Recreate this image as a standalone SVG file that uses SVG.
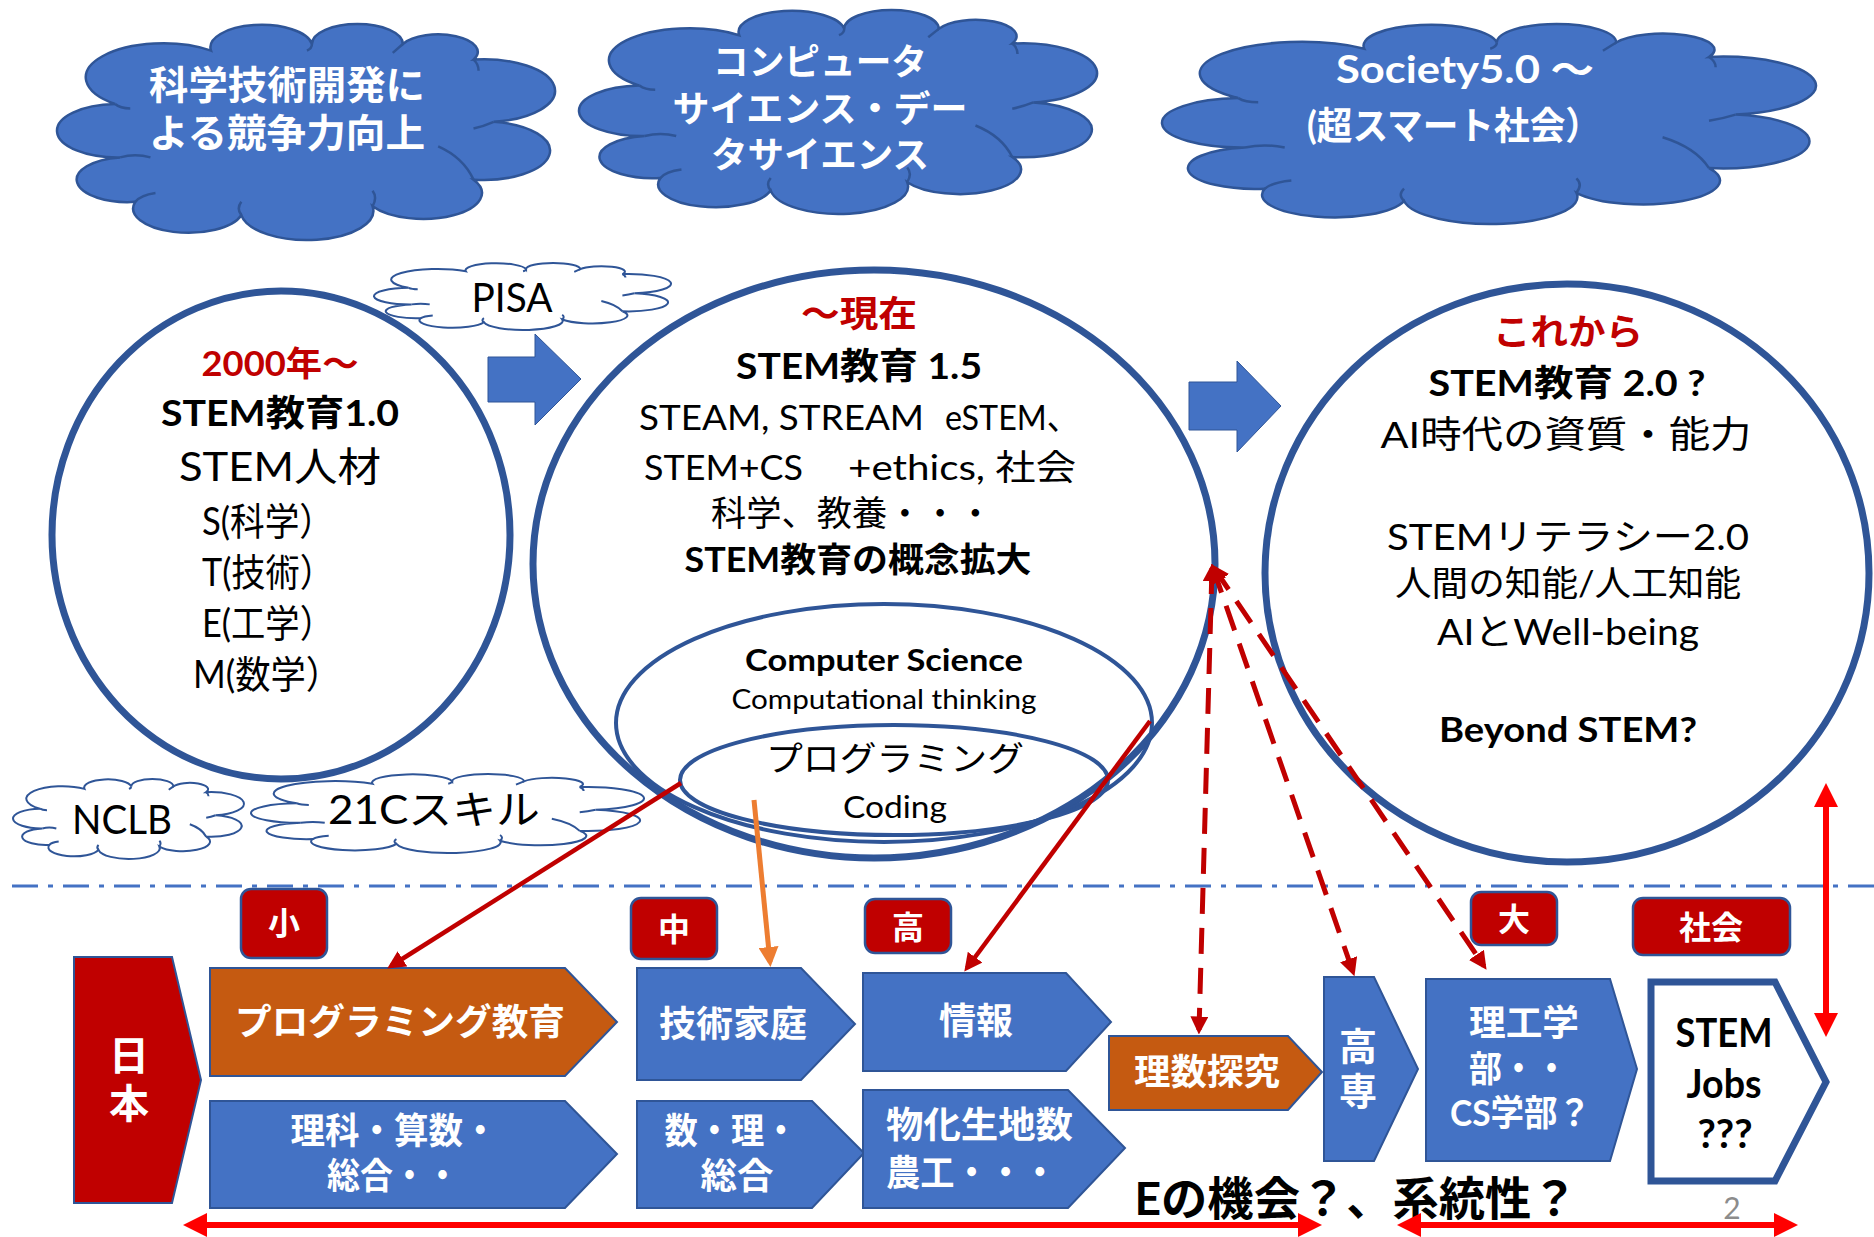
<svg xmlns="http://www.w3.org/2000/svg" xmlns:xlink="http://www.w3.org/1999/xlink" width="1874" height="1237" viewBox="0 0 1874 1237">
<style>
.t{font-family:Lato,"Noto Sans CJK JP",sans-serif;text-anchor:middle;dominant-baseline:central;fill:#000}
.s{text-anchor:start}
.w{fill:#fff;font-weight:bold}
.b{font-weight:bold}
.r{fill:#C00000;font-weight:bold}
.co{vector-effect:non-scaling-stroke}
.ci{fill:none;vector-effect:non-scaling-stroke}
.bcloud{fill:#4472C4;stroke:#2F5597;stroke-width:2.5}
.scloud{fill:#fff;stroke:#2F5597;stroke-width:2}
.circ{fill:none;stroke:#2F5597;stroke-width:7}
.ell{fill:none;stroke:#2F5597;stroke-width:4}
.blue{fill:#4472C4;stroke:#2F5597;stroke-width:2}
.orange{fill:#C55A11;stroke:#2F5597;stroke-width:2}
.lab{fill:#C00000;stroke:#2F5597;stroke-width:2.5}
.dr{fill:none;stroke:#C00000;stroke-width:4.5}
.dash{fill:none;stroke:#C00000;stroke-width:5;stroke-dasharray:26 14}
.rr{fill:none;stroke:#FF0000;stroke-width:6}
</style>
<defs>
<g id="cloud">
<g transform="scale(1.01369,1.02933) translate(0.51,-2)">
<path class="co" d="M11,38 A1,1 0 0 1 30,14 A1,1 0 0 1 50,11 A1,1 0 0 1 68,11 A1,1 0 0 1 82,18 A1,1 0 0 1 86,46 A1,1 0 0 1 82,72 A1,1 0 0 1 62,84 A1,1 0 0 1 36,88 A1,1 0 0 1 15,82 A1,1 0 0 1 12,62 A1,1 0 0 1 11,38 Z"/>
<path class="ci" d="M12,62 Q15,60 18,62 M15,82 Q16,79 19,78 M36,88 Q35,85 36,82 M62,84 Q63,80 62,77 M82,72 Q80,62 75,57 M86,46 Q84,48 82,49 M82,18 Q83,20 83,23 M68,11 Q67,13 66,15 M50,11 Q50,13 49,14 M11,38 Q12,40 14,40"/>
</g>
</g>
<marker id="mDR" viewBox="0 0 10 10" refX="7.5" refY="5" markerUnits="userSpaceOnUse" markerWidth="18" markerHeight="18" orient="auto-start-reverse"><path d="M0,0 L10,5 L0,10 z" fill="#C00000"/></marker>
<marker id="mOr" viewBox="0 0 10 10" refX="7.5" refY="5" markerUnits="userSpaceOnUse" markerWidth="20" markerHeight="20" orient="auto-start-reverse"><path d="M0,0 L10,5 L0,10 z" fill="#ED7D31"/></marker>
<marker id="mRR" viewBox="0 0 10 10" refX="7.5" refY="5" markerUnits="userSpaceOnUse" markerWidth="24" markerHeight="24" orient="auto-start-reverse"><path d="M0,0 L10,5 L0,10 z" fill="#FF0000"/></marker>
</defs>
<rect width="1874" height="1237" fill="#fff"/>

<g id="cloud-competition">
<use xlink:href="#cloud" class="bcloud" transform="translate(57,24) scale(4.98,2.16)"/>
<text class="t w" x="287" y="84" font-size="39" textLength="276" lengthAdjust="spacingAndGlyphs">科学技術開発に</text>
<text class="t w" x="287" y="132" font-size="39" textLength="276" lengthAdjust="spacingAndGlyphs">よる競争力向上</text>
</g>
<g id="cloud-cs">
<use xlink:href="#cloud" class="bcloud" transform="translate(579,10) scale(5.18,2.04)"/>
<text class="t w" x="820" y="61" font-size="36" textLength="214" lengthAdjust="spacingAndGlyphs">コンピュータ</text>
<text class="t w" x="820" y="108" font-size="36" textLength="295" lengthAdjust="spacingAndGlyphs">サイエンス・デー</text>
<text class="t w" x="820" y="154" font-size="36" textLength="218" lengthAdjust="spacingAndGlyphs">タサイエンス</text>
</g>
<g id="cloud-society">
<use xlink:href="#cloud" class="bcloud" transform="translate(1162,24) scale(6.54,2.0)"/>
<text class="t w" x="1465" y="68" font-size="38" textLength="258" lengthAdjust="spacingAndGlyphs">Society5.0 ～</text>
<text class="t w" x="1454" y="124" font-size="38" textLength="294" lengthAdjust="spacingAndGlyphs">(超スマート社会）</text>
</g>

<g id="cloud-pisa">
<use xlink:href="#cloud" class="scloud" transform="translate(374,263) scale(2.97,0.67)"/>
<text class="t" x="512" y="297" font-size="40" textLength="81" lengthAdjust="spacingAndGlyphs">PISA</text>
</g>
<g id="cloud-nclb">
<use xlink:href="#cloud" class="scloud" transform="translate(13,779) scale(2.31,0.8)"/>
<text class="t" x="122" y="819" font-size="40" textLength="100" lengthAdjust="spacingAndGlyphs">NCLB</text>
</g>
<g id="cloud-21c">
<use xlink:href="#cloud" class="scloud" transform="translate(251,774) scale(3.93,0.79)"/>
<text class="t" x="434" y="809" font-size="40" textLength="212" lengthAdjust="spacingAndGlyphs">21Cスキル</text>
</g>

<g id="circle-stem10">
<ellipse class="circ" cx="281" cy="535" rx="229" ry="244"/>
<text class="t r" x="280" y="362" font-size="34" textLength="157" lengthAdjust="spacingAndGlyphs">2000年～</text>
<text class="t b" x="280" y="412" font-size="36" textLength="238" lengthAdjust="spacingAndGlyphs">STEM教育1.0</text>
<text class="t" x="280" y="466" font-size="40" textLength="202" lengthAdjust="spacingAndGlyphs">STEM人材</text>
<text class="t" x="268" y="520" font-size="38" textLength="132" lengthAdjust="spacingAndGlyphs">S(科学）</text>
<text class="t" x="268" y="571" font-size="38" textLength="132" lengthAdjust="spacingAndGlyphs">T(技術）</text>
<text class="t" x="268" y="622" font-size="38" textLength="132" lengthAdjust="spacingAndGlyphs">E(工学）</text>
<text class="t" x="267" y="673" font-size="38" textLength="148" lengthAdjust="spacingAndGlyphs">M(数学）</text>
</g>

<g id="circle-stem15">
<ellipse class="circ" cx="874" cy="564" rx="341" ry="294"/>
<text class="t r" x="859" y="313" font-size="36" textLength="116" lengthAdjust="spacingAndGlyphs">～現在</text>
<text class="t b" x="859" y="365" font-size="36" textLength="246" lengthAdjust="spacingAndGlyphs">STEM教育 1.5</text>
<text class="t s" x="639" y="416" font-size="35" textLength="285" lengthAdjust="spacingAndGlyphs">STEAM, STREAM</text>
<text class="t s" x="945" y="416" font-size="35" textLength="134" lengthAdjust="spacingAndGlyphs">eSTEM、</text>
<text class="t s" x="644" y="466" font-size="35" textLength="159" lengthAdjust="spacingAndGlyphs">STEM+CS</text>
<text class="t s" x="848" y="466" font-size="35" textLength="228" lengthAdjust="spacingAndGlyphs">+ethics, 社会</text>
<text class="t" x="852" y="512" font-size="35" textLength="282" lengthAdjust="spacingAndGlyphs">科学、教養・・・</text>
<text class="t b" x="858" y="558" font-size="34" textLength="347" lengthAdjust="spacingAndGlyphs">STEM教育の概念拡大</text>
</g>
<g id="ellipse-cs">
<ellipse class="ell" cx="884" cy="723" rx="268" ry="119"/>
<text class="t b" x="884" y="659" font-size="31" textLength="278" lengthAdjust="spacingAndGlyphs">Computer Science</text>
<text class="t" x="884" y="699" font-size="26" textLength="305" lengthAdjust="spacingAndGlyphs">Computational thinking</text>
</g>
<g id="ellipse-programming">
<ellipse class="ell" cx="894" cy="780" rx="214" ry="55"/>
<text class="t" x="895" y="757" font-size="34" textLength="258" lengthAdjust="spacingAndGlyphs">プログラミング</text>
<text class="t" x="895" y="806" font-size="31" textLength="104" lengthAdjust="spacingAndGlyphs">Coding</text>
</g>

<g id="circle-stem20">
<ellipse class="circ" cx="1567" cy="573" rx="302" ry="289"/>
<text class="t r" x="1568" y="331" font-size="36" textLength="150" lengthAdjust="spacingAndGlyphs">これから</text>
<text class="t b" x="1567" y="382" font-size="36" textLength="277" lengthAdjust="spacingAndGlyphs">STEM教育 2.0 ?</text>
<text class="t" x="1566" y="433" font-size="37" textLength="371" lengthAdjust="spacingAndGlyphs">AI時代の資質・能力</text>
<text class="t" x="1568" y="536" font-size="36" textLength="362" lengthAdjust="spacingAndGlyphs">STEMリテラシー2.0</text>
<text class="t" x="1568" y="582" font-size="35" textLength="346" lengthAdjust="spacingAndGlyphs">人間の知能/人工知能</text>
<text class="t" x="1568" y="631" font-size="36" textLength="262" lengthAdjust="spacingAndGlyphs">AIとWell-being</text>
<text class="t b" x="1568" y="728" font-size="34" textLength="258" lengthAdjust="spacingAndGlyphs">Beyond STEM?</text>
</g>

<g id="arrow-1">
<polygon class="blue" style="stroke-width:1" points="488,357 535,357 535,334 581,379 535,425 535,402 488,402"/>
</g>
<g id="arrow-2">
<polygon class="blue" style="stroke-width:1" points="1189,382 1237,382 1237,361 1281,406 1237,452 1237,430 1189,430"/>
</g>

<line x1="12" y1="886" x2="1874" y2="886" stroke="#4472C4" stroke-width="3" stroke-dasharray="26 10 5 10"/>

<g id="japan">
<polygon fill="#C00000" stroke="#2F5597" stroke-width="2" points="74,957 172,957 201,1080 172,1203 74,1203"/>
<text class="t w" x="129" y="1055" font-size="40">日</text>
<text class="t w" x="129" y="1103" font-size="40">本</text>
</g>

<g id="label-elementary"><rect class="lab" x="241" y="889" width="86" height="69" rx="10"/><text class="t w" x="284" y="922" font-size="32">小</text></g>
<g id="label-junior"><rect class="lab" x="631" y="898" width="86" height="61" rx="10"/><text class="t w" x="674" y="928" font-size="32">中</text></g>
<g id="label-high"><rect class="lab" x="865" y="899" width="86" height="54" rx="10"/><text class="t w" x="908" y="926" font-size="32">高</text></g>
<g id="label-univ"><rect class="lab" x="1471" y="892" width="86" height="53" rx="10"/><text class="t w" x="1514" y="918" font-size="32">大</text></g>
<g id="label-society"><rect class="lab" x="1633" y="898" width="157" height="57" rx="10"/><text class="t w" x="1711" y="926" font-size="32">社会</text></g>

<g id="box-programming">
<polygon class="orange" points="210,968 565,968 617,1022 565,1076 210,1076"/>
<text class="t w" x="400" y="1021" font-size="36" textLength="330" lengthAdjust="spacingAndGlyphs">プログラミング教育</text>
</g>
<g id="box-science-math">
<polygon class="blue" points="210,1101 565,1101 617,1154 565,1208 210,1208"/>
<text class="t w" x="394" y="1130" font-size="36" textLength="207" lengthAdjust="spacingAndGlyphs">理科・算数・</text>
<text class="t w" x="393" y="1175" font-size="36" textLength="132" lengthAdjust="spacingAndGlyphs">総合・・</text>
</g>
<g id="box-tech-home">
<polygon class="blue" points="637,968 801,968 855,1024 801,1080 637,1080"/>
<text class="t w" x="733" y="1023" font-size="36" textLength="148" lengthAdjust="spacingAndGlyphs">技術家庭</text>
</g>
<g id="box-math-sci">
<polygon class="blue" points="637,1101 812,1101 864,1153 812,1208 637,1208"/>
<text class="t w" x="731" y="1130" font-size="36" textLength="133" lengthAdjust="spacingAndGlyphs">数・理・</text>
<text class="t w" x="737" y="1175" font-size="36" textLength="73" lengthAdjust="spacingAndGlyphs">総合</text>
</g>
<g id="box-info">
<polygon class="blue" points="863,973 1066,973 1111,1022 1066,1071 863,1071"/>
<text class="t w" x="976" y="1020" font-size="36" textLength="74" lengthAdjust="spacingAndGlyphs">情報</text>
</g>
<g id="box-subjects">
<polygon class="blue" points="863,1090 1068,1090 1125,1148 1068,1208 863,1208"/>
<text class="t w s" x="886" y="1124" font-size="36" textLength="187" lengthAdjust="spacingAndGlyphs">物化生地数</text>
<text class="t w s" x="886" y="1172" font-size="36" textLength="171" lengthAdjust="spacingAndGlyphs">農工・・・</text>
</g>
<g id="box-inquiry">
<polygon class="orange" points="1109,1036 1288,1036 1322,1072 1288,1110 1109,1110"/>
<text class="t w" x="1207" y="1071" font-size="36" textLength="146" lengthAdjust="spacingAndGlyphs">理数探究</text>
</g>
<g id="box-kosen">
<polygon class="blue" points="1324,977 1374,977 1418,1069 1374,1161 1324,1161"/>
<text class="t w" x="1358" y="1045" font-size="38">高</text>
<text class="t w" x="1358" y="1090" font-size="38">専</text>
</g>
<g id="box-university">
<polygon class="blue" points="1426,979 1610,979 1637,1069 1610,1161 1426,1161"/>
<text class="t w s" x="1469" y="1022" font-size="36" textLength="110" lengthAdjust="spacingAndGlyphs">理工学</text>
<text class="t w s" x="1469" y="1068" font-size="36" textLength="99" lengthAdjust="spacingAndGlyphs">部・・</text>
<text class="t w s" x="1450" y="1112" font-size="36" textLength="141" lengthAdjust="spacingAndGlyphs">CS学部？</text>
</g>
<g id="box-jobs">
<polygon fill="#fff" stroke="#2F5597" stroke-width="7" points="1651,982 1775,982 1826,1082 1775,1181 1651,1181"/>
<text class="t b" x="1724" y="1032" font-size="40" textLength="97" lengthAdjust="spacingAndGlyphs">STEM</text>
<text class="t b" x="1724" y="1083" font-size="40" textLength="75" lengthAdjust="spacingAndGlyphs">Jobs</text>
<text class="t b" x="1725" y="1133" font-size="40" textLength="55" lengthAdjust="spacingAndGlyphs">???</text>
</g>

<text class="t b" x="1356" y="1197" font-size="46" textLength="443" lengthAdjust="spacingAndGlyphs">Eの機会？、系統性？</text>
<text class="t" x="1732" y="1207" font-size="30" style="fill:#8C8C8C">2</text>

<g id="connectors">
<path class="dr" d="M681,783 L391,966" marker-end="url(#mDR)"/>
<path d="M754,800 L770,962" fill="none" stroke="#ED7D31" stroke-width="5" marker-end="url(#mOr)"/>
<path class="dr" d="M1150,721 L967,968" marker-end="url(#mDR)"/>
<path class="dash" d="M1212,568 L1199,1030" marker-start="url(#mDR)" marker-end="url(#mDR)"/>
<path class="dash" d="M1213,568 L1353,972" marker-start="url(#mDR)" marker-end="url(#mDR)"/>
<path class="dash" d="M1214,568 L1484,966" marker-start="url(#mDR)" marker-end="url(#mDR)"/>
<path class="rr" d="M189,1225 L1316,1225" marker-start="url(#mRR)" marker-end="url(#mRR)"/>
<path class="rr" d="M1403,1225 L1792,1225" marker-start="url(#mRR)" marker-end="url(#mRR)"/>
<path class="rr" d="M1826,789 L1826,1031" marker-start="url(#mRR)" marker-end="url(#mRR)"/>
</g>
</svg>
